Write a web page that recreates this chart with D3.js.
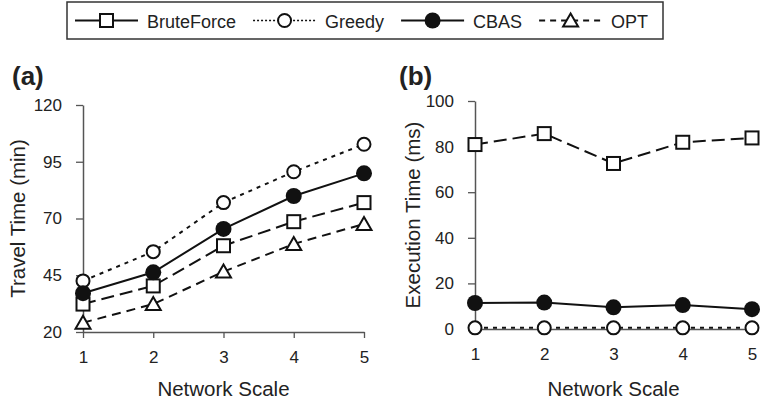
<!DOCTYPE html>
<html>
<head>
<meta charset="utf-8">
<script src="https://cdn.jsdelivr.net/npm/d3@7"></script>
<style>
body { margin: 0; background: #fff; }
text { font-family: "Liberation Sans", Arial, sans-serif; fill: #222; }
</style>
</head>
<body>
<div class="chart"></div>
<script>
// data
var scales = [1, 2, 3, 4, 5];
var travelBrute = [32.3, 40.3, 58, 68.6, 77];
var travelGreedy = [42.5, 55.4, 77, 90.6, 102.7];
var travelCbas = [37.1, 46.3, 65.4, 79.9, 89.9];
var travelOpt = [24.1, 32.3, 46.6, 58.8, 67.6];
var execBrute = [80.9, 85.7, 72.6, 81.9, 83.8];
var execGreedy = [0.5, 0.5, 0.5, 0.5, 0.5];
var execCbas = [11.4, 11.6, 9.5, 10.5, 8.7];
var travelTicks = [20, 45, 70, 95, 120];
var execTicks = [0, 20, 40, 60, 80, 100];
var legendNames = ["BruteForce", "Greedy", "CBAS", "OPT"];

var styles = {
    BruteForce: { dash: "13,6", marker: "square" },
    Greedy: { dash: "4,5", marker: "circle" },
    CBAS: { dash: null, marker: "dot" },
    OPT: { dash: "9,6", marker: "triangle" }
};

var svg = d3.select(".chart").append("svg")
    .attr("width", 760).attr("height", 403);

function marker(g, type, x, y) {
    if (type == "square") {
        g.append("rect").attr("x", x - 6.5).attr("y", y - 6.5)
            .attr("width", 13).attr("height", 13)
            .attr("fill", "#fff").attr("stroke", "#111").attr("stroke-width", 2);
    } else if (type == "circle") {
        g.append("circle").attr("cx", x).attr("cy", y).attr("r", 6.5)
            .attr("fill", "#fff").attr("stroke", "#111").attr("stroke-width", 2);
    } else if (type == "dot") {
        g.append("circle").attr("cx", x).attr("cy", y).attr("r", 8)
            .attr("fill", "#111");
    } else {
        g.append("path")
            .attr("d", "M" + x + "," + (y - 7) + "L" + (x + 7.5) + "," + (y + 6) + "L" + (x - 7.5) + "," + (y + 6) + "Z")
            .attr("fill", "#fff").attr("stroke", "#111").attr("stroke-width", 2);
    }
}

function panel(opts) {
    var x = d3.scaleLinear().domain([1, 5]).range([opts.x0, opts.x1]);
    var y = d3.scaleLinear().domain(opts.domain).range([opts.y0, opts.y1]);
    var g = svg.append("g");

    var yAxis = g.append("g").attr("transform", "translate(" + opts.x0 + ",0)")
        .call(d3.axisLeft(y).tickValues(opts.ticks).tickSize(7).tickPadding(14).tickSizeOuter(0));
    var xAxis = g.append("g").attr("transform", "translate(0," + opts.y0 + ")")
        .call(d3.axisBottom(x).tickValues(scales).tickFormat(d3.format("d"))
            .tickSize(6).tickPadding(6).tickSizeOuter(0));
    [yAxis, xAxis].forEach(function (a) {
        a.select(".domain").attr("stroke", "#555").attr("stroke-width", 1.5);
        a.selectAll(".tick line").attr("stroke", "#555").attr("stroke-width", 1.3);
        a.selectAll("text").attr("font-size", 17).attr("fill", "#222")
            .attr("font-family", "Liberation Sans, Arial, sans-serif");
    });
    xAxis.selectAll("text").attr("y", 19);

    opts.series.forEach(function (s) {
        var st = styles[s.name];
        var line = d3.line().x(function (d, i) { return x(scales[i]); }).y(function (d) { return y(d); });
        g.append("path").datum(s.values)
            .attr("fill", "none").attr("stroke", "#111").attr("stroke-width", 2)
            .attr("stroke-dasharray", st.dash)
            .attr("d", line);
        s.values.forEach(function (v, i) { marker(g, st.marker, x(scales[i]), y(v)); });
    });

    g.append("text").attr("transform", "translate(" + opts.titleX + "," + ((opts.y0 + opts.y1) / 2) + ") rotate(-90)")
        .attr("text-anchor", "middle").attr("font-size", 20.5).text(opts.ytitle);
    g.append("text").attr("x", (opts.x0 + opts.x1) / 2).attr("y", 396)
        .attr("text-anchor", "middle").attr("font-size", 20.5).text("Network Scale");
    g.append("text").attr("x", opts.labelX).attr("y", 85)
        .attr("font-size", 26).attr("font-weight", "bold").text(opts.label);
}

panel({
    x0: 83, x1: 364, y0: 332, y1: 105, domain: [20, 120], ticks: travelTicks,
    ytitle: "Travel Time (min)", titleX: 25, label: "(a)", labelX: 12,
    series: [
        { name: "OPT", values: travelOpt },
        { name: "BruteForce", values: travelBrute },
        { name: "Greedy", values: travelGreedy },
        { name: "CBAS", values: travelCbas }
    ]
});

panel({
    x0: 475, x1: 752, y0: 329, y1: 101, domain: [0, 100], ticks: execTicks,
    ytitle: "Execution Time (ms)", titleX: 420, label: "(b)", labelX: 399,
    series: [
        { name: "BruteForce", values: execBrute },
        { name: "Greedy", values: execGreedy },
        { name: "CBAS", values: execCbas }
    ]
});

// legend
var legend = svg.append("g");
legend.append("rect").attr("x", 67).attr("y", 2).attr("width", 596).attr("height", 37)
    .attr("fill", "#fff").attr("stroke", "#333").attr("stroke-width", 1.5);
var legendStyle = { BruteForce: null, Greedy: "2,2", CBAS: null, OPT: "6,5" };
var lx = 75, ly = 20.5;
legendNames.forEach(function (n) {
    legend.append("line").attr("x1", lx).attr("x2", lx + 63).attr("y1", ly).attr("y2", ly)
        .attr("stroke", "#111").attr("stroke-width", n == "Greedy" ? 1.3 : 2)
        .attr("stroke-dasharray", legendStyle[n]);
    marker(legend, styles[n].marker, lx + 31.5, ly);
    var t = legend.append("text").attr("x", lx + 72).attr("y", ly + 7)
        .attr("font-size", 18).text(n);
    lx = lx + 72 + t.node().getComputedTextLength() + 17;
});
</script>
</body>
</html>
